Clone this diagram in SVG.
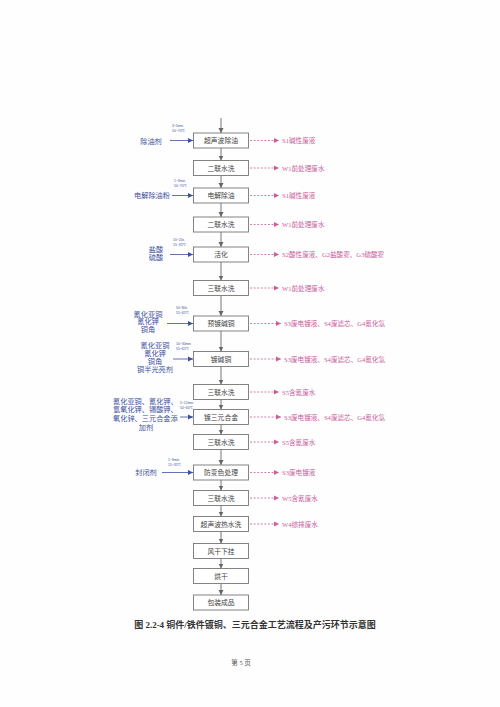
<svg xmlns="http://www.w3.org/2000/svg" width="500" height="707" viewBox="0 0 500 707">
<defs>
<marker id="ag" markerWidth="6" markerHeight="6" refX="5" refY="3" orient="auto" markerUnits="userSpaceOnUse"><path d="M0,0.5 L5,3 L0,5.5 Z" fill="#666"/></marker>
<marker id="ab" markerWidth="6" markerHeight="6" refX="5" refY="3" orient="auto" markerUnits="userSpaceOnUse"><path d="M0,0.5 L5,3 L0,5.5 Z" fill="#3d4f9e"/></marker>
<marker id="ap" markerWidth="6" markerHeight="6" refX="5" refY="3" orient="auto" markerUnits="userSpaceOnUse"><path d="M0,0.5 L5,3 L0,5.5 Z" fill="#c8609a"/></marker>
</defs>
<style>
.box{fill:#fff;stroke:#777;stroke-width:0.9}
.bt{font-family:"Liberation Serif","Noto Sans CJK SC",serif;font-size:6.8px;fill:#444;text-anchor:middle}
.rt{font-family:"Liberation Serif","Noto Sans CJK SC",serif;font-size:6.6px;fill:#c8609a}
.lt{font-family:"Liberation Serif","Noto Sans CJK SC",serif;font-size:7.2px;fill:#3d4f9e}
.ct{font-family:"Liberation Sans","Noto Sans CJK SC",sans-serif;font-size:3.4px;fill:#3d4f9e}
.v{stroke:#666;stroke-width:0.9;fill:none;marker-end:url(#ag)}
.d{stroke:#c8609a;stroke-width:0.8;stroke-dasharray:2,1.6;fill:none;marker-end:url(#ap)}
.l{stroke:#3d4f9e;stroke-width:0.8;fill:none;marker-end:url(#ab)}
</style>
<rect width="500" height="707" fill="#fefefe"/>

<g id="connectors">
<line class="v" x1="221" y1="118" x2="221" y2="133"/>
<line class="v" x1="221" y1="148" x2="221" y2="160.5"/>
<line class="v" x1="221" y1="175.5" x2="221" y2="188"/>
<line class="v" x1="221" y1="203" x2="221" y2="217"/>
<line class="v" x1="221" y1="232" x2="221" y2="247"/>
<line class="v" x1="221" y1="262" x2="221" y2="280.5"/>
<line class="v" x1="221" y1="295.5" x2="221" y2="316"/>
<line class="v" x1="221" y1="331" x2="221" y2="351.5"/>
<line class="v" x1="221" y1="366.5" x2="221" y2="384.5"/>
<line class="v" x1="221" y1="399.5" x2="221" y2="409.5"/>
<line class="v" x1="221" y1="424.5" x2="221" y2="434.5"/>
<line class="v" x1="221" y1="449.5" x2="221" y2="465"/>
<line class="v" x1="221" y1="480" x2="221" y2="490.5"/>
<line class="v" x1="221" y1="505.5" x2="221" y2="516.5"/>
<line class="v" x1="221" y1="531.5" x2="221" y2="543.5"/>
<line class="v" x1="221" y1="558.5" x2="221" y2="568.5"/>
<line class="v" x1="221" y1="583.5" x2="221" y2="595"/>

<line class="d" x1="250" y1="140.5" x2="279" y2="140.5"/>
<line class="d" x1="250" y1="168" x2="279" y2="168"/>
<line class="d" x1="250" y1="195.5" x2="279" y2="195.5"/>
<line class="d" x1="250" y1="224.5" x2="279" y2="224.5"/>
<line class="d" x1="250" y1="254.5" x2="279" y2="254.5"/>
<line class="d" x1="250" y1="288" x2="279" y2="288"/>
<line class="d" x1="250" y1="323.5" x2="281" y2="323.5"/>
<line class="d" x1="250" y1="359" x2="281" y2="359"/>
<line class="d" x1="250" y1="392" x2="279" y2="392"/>
<line class="d" x1="250" y1="417" x2="281" y2="417"/>
<line class="d" x1="250" y1="442" x2="279" y2="442"/>
<line class="d" x1="250" y1="472.5" x2="279" y2="472.5"/>
<line class="d" x1="250" y1="498" x2="279" y2="498"/>
<line class="d" x1="250" y1="524" x2="279" y2="524"/>

<line class="l" x1="170" y1="140.5" x2="193" y2="140.5"/>
<line class="l" x1="172" y1="195.5" x2="193" y2="195.5"/>
<line class="l" x1="170" y1="254.5" x2="193" y2="254.5"/>
<line class="l" x1="167" y1="323.5" x2="193" y2="323.5"/>
<line class="l" x1="173" y1="359" x2="193" y2="359"/>
<line class="l" x1="180" y1="417" x2="193" y2="417"/>
<line class="l" x1="162" y1="472.5" x2="193" y2="472.5"/>
</g>

<g id="n1"><rect class="box" x="193.5" y="133" width="55" height="15"/><text class="bt" x="221" y="143">超声波除油</text></g>
<g id="n2"><rect class="box" x="193.5" y="160.5" width="55" height="15"/><text class="bt" x="221" y="170.5">二联水洗</text></g>
<g id="n3"><rect class="box" x="193.5" y="188" width="55" height="15"/><text class="bt" x="221" y="198">电解除油</text></g>
<g id="n4"><rect class="box" x="193.5" y="217" width="55" height="15"/><text class="bt" x="221" y="227">二联水洗</text></g>
<g id="n5"><rect class="box" x="193.5" y="247" width="55" height="15"/><text class="bt" x="221" y="257">活化</text></g>
<g id="n6"><rect class="box" x="193.5" y="280.5" width="55" height="15"/><text class="bt" x="221" y="290.5">三联水洗</text></g>
<g id="n7"><rect class="box" x="193.5" y="316" width="55" height="15"/><text class="bt" x="221" y="326">预镀碱铜</text></g>
<g id="n8"><rect class="box" x="193.5" y="351.5" width="55" height="15"/><text class="bt" x="221" y="361.5">镀碱铜</text></g>
<g id="n9"><rect class="box" x="193.5" y="384.5" width="55" height="15"/><text class="bt" x="221" y="394.5">三联水洗</text></g>
<g id="n10"><rect class="box" x="193.5" y="409.5" width="55" height="15"/><text class="bt" x="221" y="419.5">镀三元合金</text></g>
<g id="n11"><rect class="box" x="193.5" y="434.5" width="55" height="15"/><text class="bt" x="221" y="444.5">三联水洗</text></g>
<g id="n12"><rect class="box" x="193.5" y="465" width="55" height="15"/><text class="bt" x="221" y="475">防变色处理</text></g>
<g id="n13"><rect class="box" x="193.5" y="490.5" width="55" height="15"/><text class="bt" x="221" y="500.5">三联水洗</text></g>
<g id="n14"><rect class="box" x="193.5" y="516.5" width="55" height="15"/><text class="bt" x="221" y="526.5">超声波热水洗</text></g>
<g id="n15"><rect class="box" x="193.5" y="543.5" width="55" height="15"/><text class="bt" x="221" y="553.5">风干下挂</text></g>
<g id="n16"><rect class="box" x="193.5" y="568.5" width="55" height="15"/><text class="bt" x="221" y="578.5">烘干</text></g>
<g id="n17"><rect class="box" x="193.5" y="595" width="55" height="15"/><text class="bt" x="221" y="605">包装成品</text></g>

<g id="outputs">
<text class="rt" x="282" y="143">S1碱性废液</text>
<text class="rt" x="282" y="170.5">W1前处理废水</text>
<text class="rt" x="282" y="198">S1碱性废液</text>
<text class="rt" x="282" y="227">W1前处理废水</text>
<text class="rt" x="282" y="257">S2酸性废液、G2盐酸雾、G3硫酸雾</text>
<text class="rt" x="282" y="290.5">W1前处理废水</text>
<text class="rt" x="284" y="326">S3废电镀液、S4废滤芯、G4氰化氢</text>
<text class="rt" x="284" y="361.5">S3废电镀液、S4废滤芯、G4氰化氢</text>
<text class="rt" x="282" y="394.5">S5含氰废水</text>
<text class="rt" x="284" y="419.5">S3废电镀液、S4废滤芯、G4氰化氢</text>
<text class="rt" x="282" y="444.5">S5含氰废水</text>
<text class="rt" x="282" y="475">S3废电镀液</text>
<text class="rt" x="282" y="500.5">W5含氰废水</text>
<text class="rt" x="282" y="526.5">W4综排废水</text>
</g>

<g id="inputs">
<text class="lt" x="151" y="143.5" text-anchor="middle">除油剂</text>
<text class="ct" x="172" y="127">3~5min</text><text class="ct" x="172" y="132">50~70℃</text>
<text class="lt" x="152" y="198" text-anchor="middle">电解除油粉</text>
<text class="ct" x="174" y="182">1~3min</text><text class="ct" x="174" y="187">50~70℃</text>
<text class="lt" x="156" y="251.5" text-anchor="middle">盐酸</text>
<text class="lt" x="156" y="259.5" text-anchor="middle">硫酸</text>
<text class="ct" x="173" y="241">10~20s</text><text class="ct" x="173" y="246">15~35℃</text>
<text class="lt" x="148" y="316.5" text-anchor="middle">氰化亚铜</text>
<text class="lt" x="148" y="324" text-anchor="middle">氰化钾</text>
<text class="lt" x="148" y="331.5" text-anchor="middle">铜角</text>
<text class="ct" x="176" y="309">50~80s</text><text class="ct" x="176" y="314">55~65℃</text>
<text class="lt" x="155" y="347.5" text-anchor="middle">氰化亚铜</text>
<text class="lt" x="155" y="355.5" text-anchor="middle">氰化钾</text>
<text class="lt" x="155" y="363.5" text-anchor="middle">铜角</text>
<text class="lt" x="155" y="371.5" text-anchor="middle">铜半光亮剂</text>
<text class="ct" x="176" y="345">10~30min</text><text class="ct" x="176" y="350">55~65℃</text>
<text class="lt" x="113" y="403.5">氰化亚铜、氰化钾、</text>
<text class="lt" x="113" y="412">氢氧化钾、锡酸钾、</text>
<text class="lt" x="113" y="420.5">氧化锌、三元合金添</text>
<text class="lt" x="146" y="430" text-anchor="middle">加剂</text>
<text class="ct" x="180" y="403.5">5~12min</text><text class="ct" x="180" y="408.5">50~60℃</text>
<text class="lt" x="146" y="475" text-anchor="middle">封闭剂</text>
<text class="ct" x="168" y="461">1~3min</text><text class="ct" x="168" y="466">15~35℃</text>
</g>

<text x="255" y="628" text-anchor="middle" font-family="'Liberation Serif','Noto Sans CJK SC',serif" font-size="9" font-weight="bold" fill="#333">图 2.2-4 铜件/铁件镀铜、三元合金工艺流程及产污环节示意图</text>
<text x="241" y="665" text-anchor="middle" font-family="'Liberation Serif','Noto Sans CJK SC',serif" font-size="6.5" fill="#555">第 5 页</text>
</svg>
